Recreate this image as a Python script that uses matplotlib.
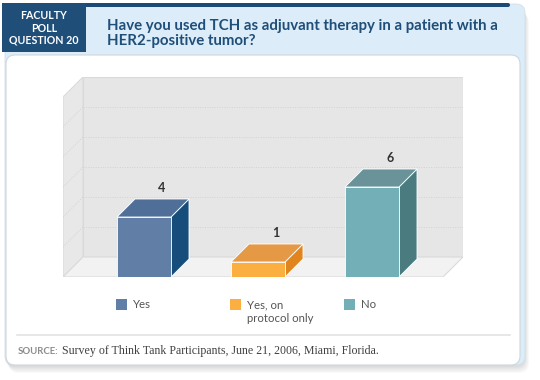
import matplotlib
matplotlib.use('Agg')
import matplotlib.pyplot as plt
from matplotlib.patches import Polygon, Rectangle, FancyBboxPatch
import matplotlib.transforms as mtransforms

# ---------------- data ----------------
categories = ["Yes", "Yes, on\nprotocol only", "No"]
values = [4, 1, 6]
grid_ticks = [2, 4, 6, 8, 10]
y_max = 12

badge_text = "FACULTY\nPOLL\nQUESTION 20"
title_text = "Have you used TCH as adjuvant therapy in a patient with a\nHER2-positive tumor?"
source_label = "SOURCE:"
source_text = "Survey of Think Tank Participants, June 21, 2006, Miami, Florida."

front_colors = ['#607ea6', '#fbaf41', '#72afb6']
top_colors = ['#4f6f99', '#e59944', '#6a9399']
side_colors = ['#174d7b', '#e0851e', '#4a7c7f']

# ---------------- figure ----------------
W, H = 540, 380
fig = plt.figure(figsize=(5.4, 3.8), dpi=100)
fig.patch.set_facecolor('white')
bg = fig.add_axes([0, 0, 1, 1])
bg.set_xlim(0, W)
bg.set_ylim(H, 0)
bg.axis('off')

# shadow
for k in range(6):
    bg.add_patch(FancyBboxPatch((5 + k * 0.8, 7 + k * 1.2), 520, 360,
                                boxstyle="round,pad=0,rounding_size=10",
                                facecolor='#000000', alpha=0.025, edgecolor='none', zorder=0))
# light blue panel
bg.add_patch(FancyBboxPatch((5, 4), 520, 361, boxstyle="round,pad=0,rounding_size=9",
                            facecolor='#dcedf9', edgecolor='#cfe0ec', lw=0.6, zorder=1))
# white panel
bg.add_patch(FancyBboxPatch((6, 55), 514, 310, boxstyle="round,pad=0,rounding_size=9",
                            facecolor='white', edgecolor='#cfd6db', lw=0.8, zorder=2))
# dark top stripe
bg.add_patch(FancyBboxPatch((80, 3), 430, 4, boxstyle="round,pad=0,rounding_size=2",
                            facecolor='#1b4a78', edgecolor='none', zorder=3))
# dark badge
bg.add_patch(Rectangle((2, 3), 84, 49, facecolor='#1f4e79', edgecolor='none', zorder=3))
bg.text(44, 28, badge_text, ha='center', va='center', color='white', fontsize=7.7,
        fontweight='bold', family='Lato', linespacing=1.12, zorder=4)
bg.text(107, 33.5, title_text, ha='left', va='center', color='#1f4e79', fontsize=10.8,
        fontweight='bold', family='Lato', linespacing=1.02, zorder=4)

# separator + source
bg.plot([17, 510], [334.5, 334.5], color='#e3e3e3', lw=1.2, zorder=3)
lab = bg.text(18, 351, source_label, ha='left', va='center', color='#8c8c8c', fontsize=6.9,
              fontweight='bold', family='Lato', zorder=4)
bg.annotate(source_text, xy=(1, 0.5), xycoords=lab, xytext=(2.5, 0), textcoords='offset points',
            ha='left', va='center', color='#404040', fontsize=8.6,
            family='Liberation Serif', zorder=4)

# ---------------- chart axes ----------------
px_x, px_y = 114.0, 15.0
ax = fig.add_axes([63 / W, (H - 277) / H, 400 / W, 200 / H])
ax.set_xlim(-81 / px_x, (463 - 144) / px_x)
ax.set_ylim(0, 200 / px_y)
ax.axis('off')
ax.patch.set_alpha(0)

xl = -81 / px_x
xr = (443 - 144) / px_x
wdx, wdy = 20 / px_x, 20 / px_y
wall_edge = '#dadada'

ax.add_patch(Polygon([(xl + wdx, wdy), (xr + wdx, wdy), (xr + wdx, wdy + y_max), (xl + wdx, wdy + y_max)],
                     closed=True, facecolor='#e6e6e6', edgecolor=wall_edge, lw=0.8, zorder=1))
ax.add_patch(Polygon([(xl, 0), (xl + wdx, wdy), (xl + wdx, wdy + y_max), (xl, y_max)],
                     closed=True, facecolor='#e8e8e8', edgecolor=wall_edge, lw=0.8, zorder=1))
ax.add_patch(Polygon([(xl, 0), (xr, 0), (xr + wdx, wdy), (xl + wdx, wdy)],
                     closed=True, facecolor='#f2f2f2', edgecolor=wall_edge, lw=0.8, zorder=1))
for t in grid_ticks:
    ax.plot([xl + wdx, xr + wdx], [wdy + t, wdy + t], color='#d2d2d2', lw=0.7,
            linestyle=(0, (1, 1.5)), zorder=2)
    ax.plot([xl, xl + wdx], [t, wdy + t], color='#d2d2d2', lw=0.7,
            linestyle=(0, (1, 1.5)), zorder=2)

bw = 54 / px_x
bdx, bdy = 18 / px_x, 18 / px_y
for i, v in enumerate(values):
    x0, x1 = i - bw / 2, i + bw / 2
    ax.add_patch(Polygon([(x1, 0), (x1 + bdx, bdy), (x1 + bdx, v + bdy), (x1, v)], closed=True,
                         facecolor=side_colors[i], edgecolor='white', lw=0.6, zorder=3))
    ax.add_patch(Polygon([(x0, v), (x1, v), (x1 + bdx, v + bdy), (x0 + bdx, v + bdy)], closed=True,
                         facecolor=top_colors[i], edgecolor='white', lw=0.6, zorder=3))
    ax.add_patch(Rectangle((x0, 0), bw, v, facecolor=front_colors[i], edgecolor='white',
                           lw=0.6, zorder=4))
    ax.text(i + bdx, v + bdy + 11 / px_y, str(v), ha='center', va='center', fontsize=9,
            color='#333333', family='Lato', fontweight='bold', zorder=5)

# legend aligned to bars
blend = mtransforms.blended_transform_factory(ax.transData, bg.transData)
for i, cat in enumerate(categories):
    x0 = i - bw / 2 - 1 / px_x
    bg.add_patch(Rectangle((x0, 299), 11 / px_x, 11, transform=blend,
                           facecolor=front_colors[i], edgecolor='none', zorder=4))
    bg.text(x0 + 17 / px_x, 299.5, cat, transform=blend, ha='left', va='top',
            fontsize=8.2, color='#555555', family='Lato', linespacing=1.3, zorder=4)

fig.savefig('out.png', dpi=100, facecolor='white')
